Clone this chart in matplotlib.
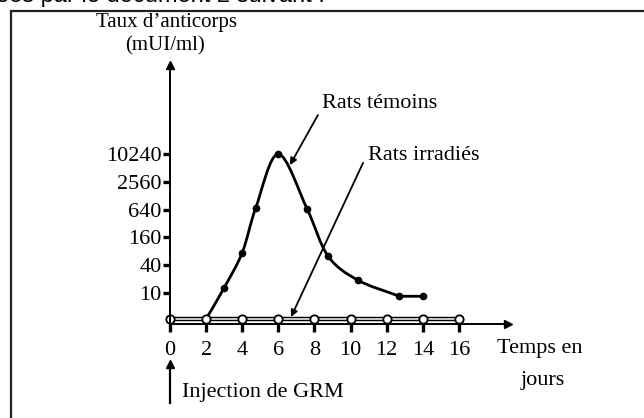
import matplotlib.pyplot as plt
from matplotlib.path import Path
from matplotlib.patches import PathPatch, Rectangle
import numpy as np

# data
days_temoins = [0, 2, 3, 4, 4.75, 6, 7.6, 8.75, 10.4, 12.7, 14]
taux_temoins = [2.75, 2.75, 13, 75, 700, 10240, 650, 63, 19, 8.5, 8.5]
days_irradies = [0, 2, 4, 6, 8, 10, 12, 14, 16]
taux_irradies = [2.75] * 9
x_ticks = [0, 2, 4, 6, 8, 10, 12, 14, 16]
y_ticks = [10, 40, 160, 640, 2560, 10240]

W, H = 644, 418
SERIF = ['Liberation Serif', 'DejaVu Serif']
FS = 16


def fx(x):
    return x / W


def fy(y):
    return 1 - y / H


def smooth_path(xs, ys):
    # straight lead-in, Catmull-Rom style curve, straight tail
    ly = np.log10(ys)
    p = np.column_stack([xs, ly])
    verts = [p[0], p[1]]
    codes = [Path.MOVETO, Path.LINETO]
    n = len(p)
    tang = []
    for i in range(n):
        if i <= 1:
            t = p[2] - p[1]
        elif i >= n - 2:
            t = p[n - 2] - p[n - 3]
        else:
            t = (p[i + 1] - p[i - 1]) / 2
        tang.append(t)
    for i in range(1, n - 2):
        c1 = p[i] + tang[i] / 3
        c2 = p[i + 1] - tang[i + 1] / 3
        verts += [c1, c2, p[i + 1]]
        codes += [Path.CURVE4] * 3
    verts.append(p[-1])
    codes.append(Path.LINETO)
    verts = np.array(verts)
    verts[:, 1] = 10 ** verts[:, 1]
    return Path(verts, codes)


fig = plt.figure(figsize=(6.44, 4.18), dpi=100)

# frame and clipped heading from the page
fig.patches.append(Rectangle((fx(11), fy(H + 10)), 1.2, fy(11) - fy(H + 10),
                             transform=fig.transFigure, fill=False,
                             edgecolor='#222222', linewidth=1.6))
fig.text(fx(-4), fy(2), "ées par le document 2 suivant :", fontsize=17,
         family='Liberation Sans', va='baseline')

ax = fig.add_axes([fx(170), fy(324), fx(508 - 170), (324 - 65) / H])
ax.set_yscale('log')
ax.set_xlim(0, (508 - 170) / 18.06)
ax.set_ylim(10 * 4 ** -1.115, 10 * 4 ** 8.2)
ax.patch.set_visible(False)
for s in ['top', 'right']:
    ax.spines[s].set_visible(False)
for s in ['left', 'bottom']:
    ax.spines[s].set_linewidth(1.4)
ax.plot(1, 0, '>k', markersize=6, transform=ax.transAxes, clip_on=False)
ax.plot(0, 1, '^k', markersize=6, transform=ax.transAxes, clip_on=False)

ax.set_xticks(x_ticks)
ax.set_xticklabels([str(v) for v in x_ticks], family=SERIF, fontsize=FS)
ax.set_yticks(y_ticks)
ax.set_yticklabels([str(v) for v in y_ticks], family=SERIF, fontsize=FS)
ax.minorticks_off()
ax.tick_params(axis='x', direction='out', length=6, width=2.4, pad=6)
ax.tick_params(axis='y', direction='out', length=5, width=2.4, pad=1)

# rats temoins
ax.add_patch(PathPatch(smooth_path(days_temoins, taux_temoins), fill=False,
                       edgecolor='black', linewidth=2.0, clip_on=False))
ax.plot(days_temoins[2:], taux_temoins[2:], 'o', color='black',
        markersize=4.5, clip_on=False)

# rats irradies (double line with open circles)
ax.plot(days_irradies, taux_irradies, color='black', linewidth=3.2,
        clip_on=False)
ax.plot(days_irradies, taux_irradies, color='white', linewidth=1.1,
        clip_on=False)
ax.plot(days_irradies, taux_irradies, 'o', markerfacecolor='white',
        markeredgecolor='black', markeredgewidth=1.3, markersize=6,
        clip_on=False)

arrow = dict(arrowstyle='-|>', color='black', lw=1.3, mutation_scale=10,
             shrinkA=0, shrinkB=0)
ax.annotate('', xy=(6.64, 5880), xytext=(8.19, 71300), arrowprops=arrow)
ax.annotate('', xy=(6.70, 3.02), xytext=(10.69, 6570), arrowprops=arrow)

fig.text(fx(322), fy(103), "Rats témoins", family=SERIF, fontsize=FS,
         va='center')
fig.text(fx(368), fy(156), "Rats irradiés", family=SERIF, fontsize=FS,
         va='center')

fig.text(fx(166), fy(22), "Taux d’anticorps", family=SERIF, fontsize=15,
         ha='center', va='center')
fig.text(fx(165), fy(46), "(mUI/ml)", family=SERIF, fontsize=15,
         ha='center', va='center')

fig.text(fx(497), fy(349), "Temps en", family=SERIF, fontsize=FS,
         va='center')
fig.text(fx(543), fy(380), "jours", family=SERIF, fontsize=FS,
         ha='center', va='center')

fig.text(fx(182), fy(393), "Injection de GRM", family=SERIF, fontsize=FS,
         va='center')
fig.add_artist(plt.Line2D([fx(170), fx(170)], [fy(403), fy(366)],
                          color='black', lw=1.6))
fig.add_artist(plt.Line2D([fx(170)], [fy(364)], marker='^', color='black',
                          markersize=6))

fig.savefig('out.png', dpi=100)
